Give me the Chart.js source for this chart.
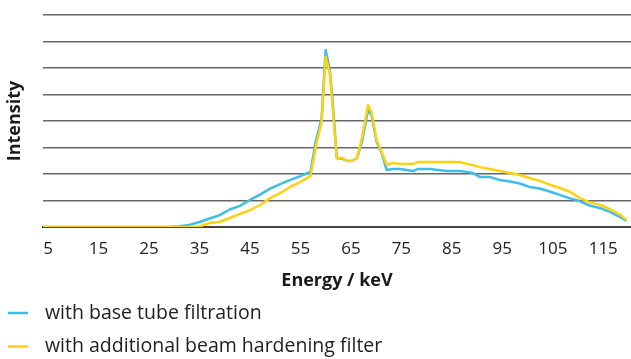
<!DOCTYPE html>
<html>
<head>
<meta charset="utf-8">
<script src="https://cdn.jsdelivr.net/npm/chart.js@4/dist/chart.umd.min.js"></script>
<style>
  html, body { margin: 0; padding: 0; background: #ffffff; }
  #wrap { width: 631px; height: 359px; }
</style>
</head>
<body>
<div id="wrap"><canvas id="spectrum" width="631" height="359"></canvas></div>
<script>
// Photon energy sample points (keV)
const energies = [4, 29, 31, 33, 35, 37, 39, 41, 43, 45, 47, 49, 51, 53, 55, 57, 58, 59.2, 60, 60.8, 61.4, 62.2, 63.4, 64.2, 65.2, 66.2, 67.2, 68.4, 69.1, 70.1, 71.1, 72.1, 73.3, 74.7, 76.1, 77.3, 78.3, 80.6, 84, 86.6, 88, 89.1, 90.5, 92.5, 94.5, 96.5, 98.5, 100.4, 102.4, 104.4, 106.4, 108.4, 110.3, 112.3, 114.3, 116.3, 118.3, 119.6];

// Relative intensity, base tube filtration
const baseFiltration = [0, 0, 0.03, 0.08, 0.19, 0.32, 0.45, 0.66, 0.8, 1.02, 1.22, 1.45, 1.62, 1.78, 1.92, 2.08, 3.2, 4.1, 6.68, 5.96, 4.72, 2.6, 2.57, 2.49, 2.5, 2.6, 3.21, 4.41, 4.23, 3.21, 2.79, 2.15, 2.19, 2.19, 2.15, 2.11, 2.19, 2.19, 2.11, 2.11, 2.08, 2.04, 1.89, 1.89, 1.77, 1.72, 1.64, 1.51, 1.45, 1.34, 1.21, 1.08, 0.98, 0.81, 0.72, 0.57, 0.38, 0.23];

// Relative intensity, with additional beam hardening filter
const hardeningFilter = [0, 0, 0, 0, 0.02, 0.15, 0.19, 0.34, 0.49, 0.64, 0.83, 1.09, 1.28, 1.51, 1.7, 1.92, 2.98, 3.96, 6.42, 5.85, 4.49, 2.6, 2.6, 2.49, 2.5, 2.6, 3.36, 4.6, 4.34, 3.28, 2.83, 2.34, 2.42, 2.38, 2.38, 2.38, 2.45, 2.45, 2.45, 2.45, 2.38, 2.34, 2.26, 2.19, 2.11, 2.04, 1.96, 1.85, 1.74, 1.6, 1.47, 1.33, 1.1, 0.93, 0.84, 0.68, 0.47, 0.26];

// Energy axis tick labels (keV)
const energyTicks = [5, 15, 25, 35, 45, 55, 65, 75, 85, 95, 105, 115];

const seriesNames = ['with base tube filtration', 'with additional beam hardening filter'];
const seriesColors = ['#3dbde9', '#fdd20f'];

const FONT = '"Open Sans", "Noto Sans", sans-serif';

const toPoints = values => values.map((v, i) => ({ x: energies[i], y: v }));

// Two-row legend drawn under the x-axis title
const stackedLegend = {
  id: 'stackedLegend',
  afterDraw(chart) {
    const ctx = chart.ctx;
    ctx.save();
    ctx.font = '19.5px ' + FONT;
    ctx.textBaseline = 'middle';
    ctx.textAlign = 'left';
    chart.data.datasets.forEach((ds, i) => {
      const y = 313 + i * 33.5;
      ctx.strokeStyle = ds.borderColor;
      ctx.lineWidth = 2.5;
      ctx.beginPath();
      ctx.moveTo(8, y);
      ctx.lineTo(28, y);
      ctx.stroke();
      ctx.fillStyle = '#1e1e1e';
      ctx.fillText(ds.label, 45, y);
    });
    ctx.restore();
  }
};

new Chart(document.getElementById('spectrum'), {
  type: 'line',
  data: {
    datasets: [
      {
        label: seriesNames[0],
        data: toPoints(baseFiltration),
        borderColor: seriesColors[0],
        borderWidth: 2.5,
        borderJoinStyle: 'round',
        pointRadius: 0,
        tension: 0,
        order: 1
      },
      {
        label: seriesNames[1],
        data: toPoints(hardeningFilter),
        borderColor: seriesColors[1],
        borderWidth: 2.5,
        borderJoinStyle: 'round',
        pointRadius: 0,
        tension: 0,
        order: 0
      }
    ]
  },
  options: {
    responsive: false,
    animation: false,
    layout: { padding: { top: 15, right: 0, bottom: 62, left: 0 } },
    plugins: {
      legend: { display: false },
      tooltip: { enabled: false }
    },
    scales: {
      x: {
        type: 'linear',
        min: 4,
        max: 120.5,
        afterBuildTicks: scale => { scale.ticks = energyTicks.map(v => ({ value: v })); },
        afterFit: scale => { scale.height = 70; },
        grid: { display: false, drawTicks: false },
        border: { display: true, color: '#444444', width: 2 },
        ticks: {
          padding: 12,
          maxRotation: 0,
          autoSkip: false,
          color: '#222222',
          font: { family: FONT, size: 17 }
        },
        title: {
          display: true,
          text: 'Energy / keV',
          color: '#1a1a1a',
          font: { family: FONT, size: 18, weight: 'bold' },
          padding: { top: 0, bottom: 5 }
        }
      },
      y: {
        min: 0,
        max: 8,
        afterFit: scale => { scale.width = 43; },
        ticks: { display: false, stepSize: 1 },
        grid: { color: '#666666', lineWidth: 1.6, drawTicks: false },
        border: { display: false },
        title: {
          display: true,
          text: 'Intensity',
          color: '#1a1a1a',
          font: { family: FONT, size: 18, weight: 'bold' },
          padding: { top: 4, bottom: 0 }
        }
      }
    }
  },
  plugins: [stackedLegend]
});
</script>
</body>
</html>
